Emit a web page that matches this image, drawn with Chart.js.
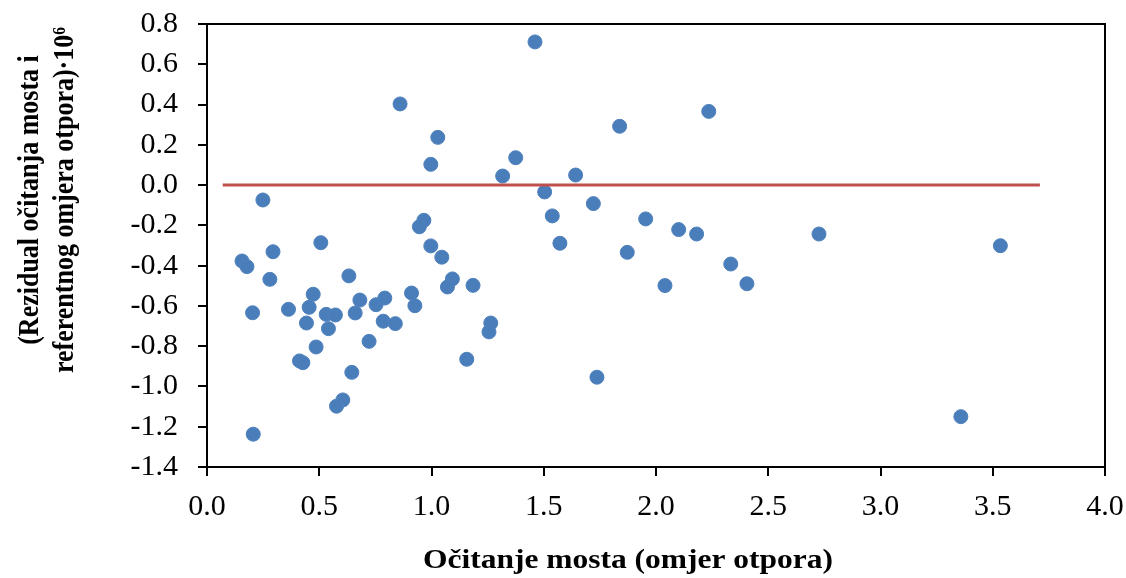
<!DOCTYPE html>
<html>
<head>
<meta charset="utf-8">
<script src="https://cdn.jsdelivr.net/npm/chart.js@4"></script>
<style>
  html, body { margin: 0; padding: 0; background: #fff; }
  #wrap { width: 1126px; height: 578px; }
</style>
</head>
<body>
<div id="wrap"><canvas id="residualChart" width="1126" height="578"></canvas></div>
<script>
// Residual plot data
const bridgeReading = [
  0.249, 0.156, 0.178, 0.294, 0.280, 0.507, 0.632, 0.203, 0.363, 0.473,
  0.455, 0.443, 0.531, 0.572, 0.541, 0.681, 0.660, 0.753, 0.792, 0.785,
  0.839, 0.722, 0.486, 0.412, 0.427, 0.645, 0.605, 0.577, 0.206, 0.911,
  0.926, 0.966, 0.946, 0.997, 1.046, 1.093, 1.071, 0.860, 1.028, 0.997,
  1.461, 1.838, 2.235, 1.375, 1.317, 1.642, 1.504, 1.721, 1.538, 1.572,
  1.954, 2.101, 2.181, 1.872, 1.185, 2.040, 1.264, 1.256, 1.157, 1.737,
  2.726, 2.333, 2.405, 3.534, 3.358
];
const residuals = [
  -0.074, -0.377, -0.405, -0.331, -0.468, -0.286, -0.451, -0.634, -0.617, -0.542,
  -0.607, -0.685, -0.642, -0.645, -0.713, -0.571, -0.635, -0.594, -0.561, -0.676,
  -0.688, -0.776, -0.804, -0.873, -0.882, -0.930, -1.067, -1.098, -1.237, -0.536,
  -0.599, -0.175, -0.207, -0.302, -0.358, -0.466, -0.506, 0.403, 0.237, 0.103,
  0.711, 0.292, 0.366, 0.136, 0.045, 0.050, -0.034, -0.092, -0.153, -0.289,
  -0.168, -0.221, -0.243, -0.334, -0.498, -0.499, -0.685, -0.729, -0.865, -0.954,
  -0.243, -0.392, -0.490, -0.301, -1.150
];
// zero reference line
const zeroLineX = [0.07, 3.71];
const zeroLineY = [0, 0];

const xTitle = 'Očitanje mosta (omjer otpora)';
const yTitleLines = ['(Rezidual očitanja mosta i', 'referentnog omjera otpora)·10⁶'];

const FONT = '"Liberation Serif", "Times New Roman", serif';

// Frame + axis titles (the original is a bit stretched sideways)
const framePlugin = {
  id: 'frame',
  afterDraw(chart) {
    const ctx = chart.ctx;
    const a = chart.chartArea;
    ctx.save();
    ctx.strokeStyle = '#000';
    ctx.lineWidth = 2;
    ctx.strokeRect(a.left, a.top, a.right - a.left, a.bottom - a.top);
    ctx.restore();

    ctx.save();
    ctx.fillStyle = '#000';
    ctx.textAlign = 'center';
    ctx.textBaseline = 'middle';
    ctx.font = 'bold 27px ' + FONT;
    const w = ctx.measureText(xTitle).width;
    ctx.translate(628, 561);
    ctx.scale(410 / w, 1);
    ctx.fillText(xTitle, 0, 0);
    ctx.restore();

    ctx.save();
    ctx.fillStyle = '#000';
    ctx.textAlign = 'center';
    ctx.textBaseline = 'middle';
    ctx.font = 'bold 26px ' + FONT;
    ctx.translate(0, 200);
    ctx.rotate(-Math.PI / 2);
    ctx.scale(1, 1.15);
    ctx.fillText(yTitleLines[0], 0, 30 / 1.15);
    ctx.fillText(yTitleLines[1], 0, 65 / 1.15);
    ctx.restore();
  }
};

const bgPlugin = {
  id: 'bg',
  beforeDraw(chart) {
    const ctx = chart.ctx;
    ctx.save();
    ctx.fillStyle = '#fff';
    ctx.fillRect(0, 0, chart.width, chart.height);
    ctx.restore();
  }
};

const ctx = document.getElementById('residualChart');
new Chart(ctx, {
  type: 'scatter',
  data: {
    datasets: [
      {
        type: 'line',
        data: zeroLineX.map((x, i) => ({ x: x, y: zeroLineY[i] })),
        borderColor: '#C0504D',
        borderWidth: 3,
        pointRadius: 0,
        fill: false,
        order: 0
      },
      {
        data: bridgeReading.map((x, i) => ({ x: x, y: residuals[i] })),
        backgroundColor: '#4A7EBB',
        borderColor: '#4F81BD',
        borderWidth: 1,
        pointRadius: 7,
        order: 1
      }
    ]
  },
  options: {
    responsive: false,
    animation: false,
    layout: { padding: { left: 0, right: 21, top: 24, bottom: 0 } },
    plugins: {
      legend: { display: false },
      tooltip: { enabled: false }
    },
    scales: {
      x: {
        type: 'linear',
        min: 0,
        max: 4,
        afterFit: s => { s.height = 111; s.paddingLeft = 0; s.paddingRight = 0; },
        border: { display: true, color: '#000', width: 2 },
        grid: { drawOnChartArea: false, drawTicks: true, tickLength: 9, color: '#000', lineWidth: 2 },
        ticks: {
          stepSize: 0.5,
          padding: 13,
          color: '#000',
          font: { family: FONT, size: 30 },
          callback: v => v.toFixed(1)
        }
      },
      y: {
        type: 'linear',
        min: -1.4,
        max: 0.8,
        afterFit: s => { s.width = 207; s.paddingTop = 0; s.paddingBottom = 0; },
        border: { display: true, color: '#000', width: 2 },
        grid: { drawOnChartArea: false, drawTicks: true, tickLength: 9, color: '#000', lineWidth: 2 },
        ticks: {
          stepSize: 0.2,
          padding: 20,
          color: '#000',
          font: { family: FONT, size: 30 },
          callback: v => v.toFixed(1)
        }
      }
    }
  },
  plugins: [bgPlugin, framePlugin]
});
</script>
</body>
</html>
